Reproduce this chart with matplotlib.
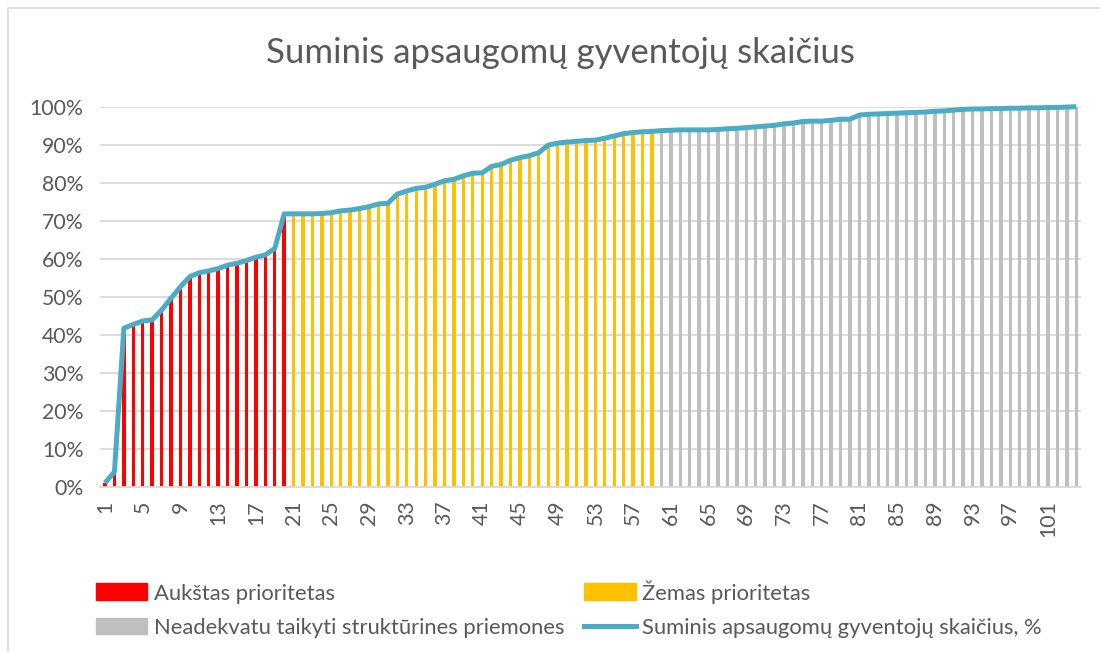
import matplotlib
matplotlib.use("Agg")
import matplotlib.pyplot as plt
from matplotlib.patches import Rectangle, Patch
from matplotlib.lines import Line2D
from matplotlib.ticker import PercentFormatter, FixedLocator
import numpy as np

# ---- data (cumulative share, %) ----
high_priority = [1.0, 3.9, 41.7, 42.7, 43.6, 43.9, 46.5, 49.6, 52.6, 55.3,
                 56.3, 56.8, 57.4, 58.3, 58.8, 59.5, 60.4, 61.0, 62.7, 71.8]
low_priority = [71.8, 71.8, 71.8, 71.9, 72.1, 72.6, 72.8, 73.2, 73.7, 74.4,
                74.6, 77.0, 77.8, 78.5, 78.8, 79.6, 80.5, 80.9, 81.8, 82.5,
                82.6, 84.3, 84.8, 85.9, 86.6, 87.1, 87.9, 89.9, 90.4, 90.7,
                90.9, 91.1, 91.2, 91.7, 92.3, 92.9, 93.2, 93.4, 93.5]
not_adequate = [93.7, 93.8, 93.9, 93.9, 93.9, 93.9, 94.0, 94.2, 94.3, 94.5,
                94.7, 94.9, 95.1, 95.5, 95.7, 96.1, 96.2, 96.2, 96.4, 96.7,
                96.7, 97.8, 98.0, 98.1, 98.2, 98.3, 98.4, 98.5, 98.6, 98.8,
                98.9, 99.1, 99.3, 99.4, 99.4, 99.5, 99.5, 99.6, 99.6, 99.7,
                99.7, 99.8, 99.8, 99.9, 100.0]
yticks = [0, 10, 20, 30, 40, 50, 60, 70, 80, 90, 100]

labels = {
    "high": "Aukštas prioritetas",
    "low": "Žemas prioritetas",
    "na": "Neadekvatu taikyti struktūrines priemones",
    "line": "Suminis apsaugomų gyventojų skaičius, %",
}
title = "Suminis apsaugomų gyventojų skaičius"

c_red = "#FF0000"
c_yel = "#FFC000"
c_gry = "#BFBFBF"
c_line = "#4BACC6"
c_txt = "#595959"
c_grid = "#D9D9D9"

plt.rcParams["font.family"] = ["Lato", "DejaVu Sans"]

n1, n2, n3 = len(high_priority), len(low_priority), len(not_adequate)
x1 = np.arange(1, n1 + 1)
x2 = np.arange(n1 + 1, n1 + n2 + 1)
x3 = np.arange(n1 + n2 + 1, n1 + n2 + n3 + 1)
allx = np.concatenate([x1, x2, x3])
ally = np.array(high_priority + low_priority + not_adequate) / 100.0
N = len(allx)

W, H = 1100, 652
fig = plt.figure(figsize=(W / 100, H / 100), dpi=100)
fig.patch.set_facecolor("white")

# chart-area border
fig.add_artist(Rectangle((8 / W, -0.05), 1.2, 1 - 8 / H + 0.05,
                         transform=fig.transFigure, fill=False,
                         edgecolor=c_grid, linewidth=1.2))

ax = fig.add_axes([100.3 / W, 1 - 486.7 / H, (1081 - 100.3) / W, (486.7 - 106.7) / H])
bw = 0.36
ax.bar(x1, np.array(high_priority) / 100, width=bw, color=c_red, zorder=2)
ax.bar(x2, np.array(low_priority) / 100, width=bw, color=c_yel, zorder=2)
ax.bar(x3, np.array(not_adequate) / 100, width=bw, color=c_gry, zorder=2)
ax.plot(allx, ally, color=c_line, lw=3.6, zorder=3, clip_on=False,
        solid_joinstyle="round", solid_capstyle="butt")

ax.set_xlim(0.5, N + 0.5)
ax.set_ylim(0, 1)
ax.yaxis.set_major_locator(FixedLocator([v / 100 for v in yticks]))
ax.yaxis.set_major_formatter(PercentFormatter(1.0, decimals=0))
ax.set_xticks(np.arange(1, N + 1, 4))
ax.set_xticklabels([str(v) for v in range(1, N + 1, 4)], rotation=90)
ax.grid(axis="y", color=c_grid, lw=1.3, zorder=0)
ax.set_axisbelow(True)
for s in ["top", "right", "left"]:
    ax.spines[s].set_visible(False)
ax.spines["bottom"].set_color(c_grid)
ax.spines["bottom"].set_linewidth(1.3)
ax.tick_params(axis="both", length=0, labelsize=15.3, colors=c_txt)
ax.tick_params(axis="y", pad=12)
ax.tick_params(axis="x", pad=10)

fig.text(560 / W, 1 - 53 / H, title, ha="center", va="center",
         fontsize=25, color=c_txt)

handles = [Patch(color=c_red, label=labels["high"]),
           Patch(color=c_gry, label=labels["na"]),
           Patch(color=c_yel, label=labels["low"]),
           Line2D([0], [0], color=c_line, lw=3.6, label=labels["line"])]
fig.legend(handles=handles, ncol=2, frameon=False, fontsize=15.8,
           labelcolor=c_txt, handlelength=2.33, handleheight=0.8,
           handletextpad=0.3, labelspacing=0.64, columnspacing=0.92,
           borderaxespad=0, borderpad=0, loc="upper left",
           bbox_to_anchor=(96 / W, 1 - 580 / H))

fig.savefig("out.png", dpi=100, facecolor="white")
